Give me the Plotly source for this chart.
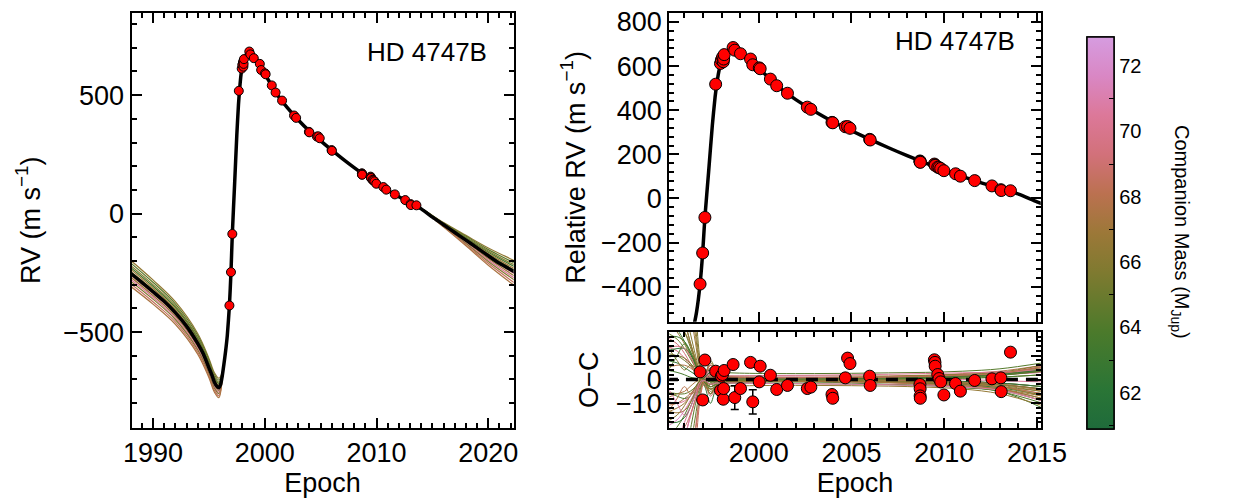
import plotly.graph_objects as go
from plotly.colors import sample_colorscale

FONT = "Liberation Sans, Arial, Helvetica, sans-serif"

# ---------------- data ----------------
# RV measurements (epoch, RV m/s, O-C m/s, O-C error)
obs_epoch = [1996.84, 1996.98, 1997.10, 1997.68, 1997.94, 1997.99, 1998.05, 1998.09, 1998.11, 1998.14,
             1998.62, 1998.71, 1999.02, 1999.56, 1999.68, 2000.03, 2000.08, 2000.63, 2000.97, 2001.55,
             2002.62, 2002.81, 2003.95, 2003.99, 2004.67, 2004.79, 2004.92, 2005.98, 2006.01, 2008.69,
             2008.70, 2008.70, 2008.71, 2009.47, 2009.50, 2009.51, 2009.65, 2009.72, 2009.81, 2009.98,
             2010.61, 2010.87, 2011.64, 2012.57, 2013.05, 2013.07, 2013.57]
obs_rv = [-388, -247, -86, 518, 612, 628, 640, 620, 632, 652,
          684, 672, 656, 632, 606, 592, 588, 541, 511, 477,
          414, 404, 345, 343, 325, 326, 318, 268, 265, 170,
          168, 165, 164, 156, 152, 150, 142, 140, 136, 126,
          112, 101, 81, 57, 40, 36, 35]
obs_oc = [3.2, -8.6, 8.2, 3.5, -4.6, 1.4, 2.1, -8.3, -3.8, 3.8,
          6.3, -7.6, -3.8, 7.2, -9.4, -1.0, 5.6, 1.8, -4.2, -2.5,
          -3.8, -3.2, -6.3, -7.9, 0.7, 9.0, 6.7, 1.4, -2.5, -2.1,
          -3.9, -6.9, -7.9, 8.3, 7.2, 5.6, 2.1, 0.4, -1.0, -6.5,
          -1.7, -4.9, -0.4, 0.3, 0.7, -5.1, 11.5]
obs_err = [1.5, 1.5, 1.5, 1.5, 1.5, 1.5, 1.5, 1.5, 1.5, 1.5,
           1.5, 5.0, 1.5, 1.5, 5.1, 1.5, 1.5, 1.5, 1.5, 1.5,
           1.5, 1.5, 1.5, 1.5, 1.5, 1.5, 1.5, 1.5, 1.5, 1.5,
           1.5, 1.5, 1.5, 1.5, 1.5, 1.5, 1.5, 1.5, 1.5, 1.5,
           1.5, 1.5, 1.5, 1.5, 1.5, 1.5, 1.5]

# best-fit orbit curve
model_epoch = [1988.0, 1989.0, 1990.0, 1991.0, 1992.0, 1993.0, 1994.0, 1994.5, 1995.0, 1995.3,
               1995.5, 1995.75, 1995.9, 1996.05, 1996.2, 1996.35, 1996.5, 1996.65, 1996.84, 1996.98,
               1997.1, 1997.3, 1997.5, 1997.65, 1997.74, 1997.85, 1997.95, 1998.1, 1998.3, 1998.5,
               1998.65, 1998.8, 1999.0, 1999.5, 2000.0, 2000.5, 2001.0, 2002.0, 2003.0, 2004.0,
               2005.0, 2006.0, 2007.0, 2008.0, 2009.0, 2010.0, 2011.0, 2012.0, 2013.0, 2014.0,
               2015.0, 2016.0, 2017.0, 2018.0, 2019.0, 2020.0, 2021.0, 2022.5]
model_rv = [-252, -290, -330, -370, -418, -475, -548, -592, -650, -685,
            -712, -731, -735, -722, -685, -635, -580, -515, -388, -247,
            -86, 120, 330, 460, 518, 575, 612, 645, 668, 680,
            682, 676, 662, 626, 590, 550, 510, 448, 395, 348,
            307, 268, 230, 194, 160, 128, 99, 71, 46, 20,
            -15, -47, -80, -112, -145, -178, -210, -250]

# orbit draws (left panel), before periastron and after the data
pre_epoch = [1988.0, 1990.0, 1992.0, 1994.0, 1995.0, 1995.5, 1995.9, 1996.2, 1996.5]
post_epoch = [2012.0, 2014.0, 2016.0, 2018.0, 2020.0, 2022.5]
draw_mass = [66.5, 64.5, 66.0, 63.5, 67.0, 65.5, 69.5, 66.8, 70.5, 65.8, 68.5, 67.5]
draw_pre = [
    [-197, -280, -372, -506, -610, -672, -695, -671, -580],
    [-208, -290, -381, -514, -618, -680, -703, -674, -580],
    [-219, -300, -390, -523, -626, -688, -711, -677, -580],
    [-227, -307, -397, -529, -632, -694, -717, -679, -580],
    [-235, -315, -404, -535, -638, -700, -723, -681, -580],
    [-244, -322, -411, -542, -644, -706, -729, -683, -580],
    [-260, -338, -425, -555, -656, -718, -741, -687, -580],
    [-268, -346, -433, -561, -663, -725, -748, -690, -580],
    [-277, -353, -440, -568, -669, -731, -754, -692, -580],
    [-285, -361, -447, -575, -675, -737, -760, -694, -580],
    [-296, -372, -457, -584, -684, -746, -769, -697, -580],
    [-307, -382, -467, -593, -692, -754, -777, -700, -580],
]
draw_post = [
    [71, 22, -38, -92, -145, -202],
    [71, 21.6, -40, -96, -152, -212],
    [71, 21, -42, -100, -158, -221],
    [71, 21, -43, -103, -163, -228],
    [71, 20.6, -44, -106, -168, -236],
    [71, 20.3, -46, -109, -173, -243],
    [71, 19.7, -48.5, -116, -184, -259],
    [71, 19.4, -50, -119, -190, -268],
    [71, 19, -51.5, -123, -196, -277],
    [71, 18.8, -53, -126, -202, -286],
    [71, 18.4, -55, -131, -210, -298],
    [71, 18, -57, -136, -218, -310],
]

# O-C of orbit draws relative to the best fit
oc_epoch = [1995.0, 1995.6, 1996.0, 1996.3, 1996.6, 1996.85, 1997.1, 1997.4, 1997.7, 1998.0,
            1998.5, 1999.5, 2001.0, 2003.0, 2005.0, 2007.0, 2009.0, 2011.0, 2013.0, 2015.3]
oc_mass = [66.0, 64.5, 69.5, 67.0, 62.5, 65.5, 70.5, 66.5, 68.0, 63.5,
           67.5, 65.0, 71.5, 64.0, 66.2, 68.8, 65.2, 67.8, 63.0, 70.0,
           66.8, 64.8, 69.2, 66.4, 62.0, 63.8, 67.2, 70.8, 65.8, 68.4,
           64.2, 66.6, 66.3, 63.2, 69.8, 65.4, 67.6, 64.6, 70.3, 66.9,
           62.4, 68.6, 65.9, 67.9, 64.1, 71.0]
oc_draws = [
    [60, 45, 30, 20, 10, 3, 1, 2, 1, 0.5, 0.5, 0.3, 0.2, 0, 0, 0.2, 0.5, 1, 2, 4],
    [-60, -48, -35, -22, -10, -3, 0, -1, -1, -0.5, -0.5, -0.5, -0.3, -0.2, -0.3, -0.5, -1, -2, -4, -8],
    [14, 12, 9, 6, 3, 1, 0.5, 3, 2, 1, 0.5, 0.5, 0.3, 0.3, 0.5, 0.8, 1.2, 1.8, 2.8, 5],
    [-14, -12, -10, -7, -4, -1, -2, -6, -3, -1.5, -1, -0.8, -0.5, -0.5, -0.8, -1, -1.5, -2.5, -4, -7],
    [8, 7, 5, 3.5, 2, 0.5, -3, -10, -4, -2, -1, -0.5, -0.5, -0.5, -0.5, -0.5, -0.8, -1, -1.5, -3],
    [30, 25, 20, 14, 7, 2, 2, 8, 4, 2, 1, 0.5, 0.3, 0.3, 0.5, 0.7, 1, 1.5, 2.5, 4.5],
    [-30, -25, -18, -12, -6, -2, 0, 2, 1, 0.5, 0.3, 0.3, 0.3, 0.3, 0.3, 0.3, 0.2, 0, -0.5, -1],
    [100, 80, 55, 35, 18, 5, 0, -3, -2, -1, -0.5, -0.5, -0.3, -0.3, -0.3, -0.5, -1, -1.8, -3, -6],
    [-100, -80, -60, -40, -20, -6, 1, 3, 2, 1, 0.5, 0.5, 0.3, 0.3, 0.5, 1, 1.5, 2.5, 3.5, 6],
    [4, 3, 2, 1, 0.5, 0, -1, -4, -3, -2, -1.5, -1, -1, -1, -1.5, -2, -2.5, -3.5, -5, -12],
    [-8, -6, -5, -3, -1, 0, 1, 5, 3, 2, 1.5, 1.5, 1.5, 1.5, 1.5, 1.5, 1.8, 2, 2.5, 3],
    [20, 17, 13, 9, 5, 2, -1, -4, -2.5, -1.5, -1, -1, -1, -1, -1, -1.2, -1.5, -2, -3, -5],
    [-20, -17, -13, -9, -5, -1.5, 1.5, 4, 2.5, 1.5, 1, 1, 1, 1, 1, 1, 1.3, 1.8, 2.5, 4],
    [45, 35, 25, 16, 8, 2, -0.5, -2, -1, -0.8, -0.8, -0.5, -0.5, -0.5, -0.8, -1.2, -2, -3, -5, -10],
    [150, 110, 75, 45, 22, 6, -1, -5, -3, -1.5, -1, -0.5, -0.3, 0, 0.3, 0.5, 0.8, 1.2, 2, 3.5],
    [-150, -110, -75, -45, -22, -6, 2, 6, 3, 1.5, 1, 0.5, 0.3, 0, -0.3, -0.5, -0.8, -1.2, -2, -4],
    [11, 10, 8, 6, 3.5, 1, -0.5, 1, 0.5, 0.3, 0.2, 0, 0, 0, 0, 0, 0.2, 0.5, 1, 2],
    [-11, -10, -8, -6, -3.5, -1, 0.5, -1, -0.5, -0.3, -0.2, 0, 0, 0, 0, -0.2, -0.4, -0.8, -1.5, -3],
    [25, 21, 16, 11, 6, 1.5, -1.5, -6, -3, -1.5, -1, -0.8, -0.6, -0.6, -0.8, -1, -1.4, -2, -3.5, -6.5],
    [-45, -35, -25, -16, -8, -2, 1, 4, 2, 1, 0.8, 0.6, 0.5, 0.5, 0.6, 0.8, 1, 1.5, 2.2, 3.5],
    [80, 62, 45, 30, 15, 4, 0, -2, -1.5, -1, -0.6, -0.3, -0.2, -0.2, -0.3, -0.5, -0.8, -1.4, -2.5, -5],
    [-80, -62, -45, -30, -15, -4, 0.5, 2, 1.5, 1, 0.6, 0.3, 0.2, 0.2, 0.3, 0.5, 0.8, 1.3, 2.2, 4],
    [18, 15, 11, 7, 3.5, 0.5, -2, -7, -3.5, -2, -1.2, -1, -0.8, -0.8, -1, -1.4, -2, -2.8, -4, -9],
    [-18, -15, -11, -7, -3, 0, 2, 7, 3.5, 2, 1.2, 1, 0.8, 0.8, 1, 1.3, 1.7, 2.2, 3, 5],
    [12, 13, 13, 11, 7, 2, -1, -3, -2, -1, -0.5, -0.3, -0.2, -0.2, -0.2, -0.3, -0.5, -0.8, -1.5, -3],
    [-5, -7, -8, -7, -4, -1, 0.5, 1.5, 1, 0.5, 0.3, 0.2, 0.2, 0.2, 0.2, 0.3, 0.4, 0.6, 1, 2],
    [40, 32, 24, 16, 8, 2, -1, -2, -1.5, -1, -1, -0.8, -0.8, -0.8, -1, -1.3, -1.8, -2.6, -4, -8],
    [-40, -32, -24, -16, -8, -2, 1, 3, 2, 1, 0.8, 0.7, 0.6, 0.6, 0.7, 0.9, 1.1, 1.4, 2, 3],
    [200, 150, 100, 60, 30, 8, 0, -2, -1, -0.5, -0.3, 0, 0.2, 0.3, 0.5, 0.8, 1.2, 1.8, 3, 6],
    [-200, -150, -100, -60, -30, -8, 0, 2, 1, 0.5, 0.3, 0, -0.2, -0.3, -0.5, -0.8, -1.2, -1.8, -3, -6],
    [-25, -20, -15, -10, -5, 0, 3, 4, 3.5, 3, 2.8, 2.6, 2.5, 2.5, 2.6, 2.8, 3, 3.5, 4.5, 7],
    [25, 20, 15, 10, 5, 0, -3, -4, -3.5, -3, -2.8, -2.6, -2.5, -2.5, -2.6, -2.8, -3.2, -4, -6, -11],
    [24, 23, 20, 15, 8, 2, 0, 1, 0.5, 0.3, 0.2, 0.1, 0, -0.1, -0.2, -0.4, -0.7, -1.2, -2, -4.5],
    [18, 18, 16, 12, 6, 1.5, -1, -3, -2, -1, -0.6, -0.4, -0.3, -0.3, -0.4, -0.6, -0.9, -1.4, -2.2, -4],
    [13, 14, 13, 10, 5, 1, 2, 6, 3, 1.5, 1, 0.8, 0.7, 0.7, 0.8, 1, 1.3, 1.8, 2.6, 5.5],
    [9, 10, 9, 7, 4, 1, -0.5, -2, -1.5, -1.5, -1.5, -1.6, -1.7, -1.8, -2, -2.2, -2.6, -3.2, -4.5, -9],
    [5, 6, 6, 5, 3, 0.5, 1, 3, 2, 1, 0.6, 0.4, 0.3, 0.3, 0.4, 0.6, 0.9, 1.4, 2.2, 4],
    [-5, -6, -6, -5, -3, -0.5, 0, -1, -0.5, -0.3, -0.2, -0.1, 0, 0.1, 0.2, 0.4, 0.7, 1.1, 1.8, 3.5],
    [-9, -10, -9, -7, -4, -1, 0.5, 2, 1.5, 1.5, 1.5, 1.6, 1.7, 1.8, 2, 2.2, 2.5, 2.8, 3.2, 4],
    [-13, -14, -13, -10, -5, -1, -2, -6, -3, -1.5, -1, -0.8, -0.7, -0.7, -0.8, -1, -1.3, -1.8, -3, -7],
    [-18, -18, -16, -12, -6, -1.5, 1, 3, 2, 1, 0.6, 0.4, 0.3, 0.3, 0.4, 0.6, 0.9, 1.4, 2.2, 4],
    [-24, -23, -20, -15, -8, -2, 0, 1, 0.5, 0.3, 0.2, 0.1, 0, -0.1, -0.2, -0.4, -0.7, -1.2, -2, -4.5],
    [15, 8, 4, 6, 5, 1, -1, -3, -2, -1, -0.6, -0.4, -0.3, -0.3, -0.4, -0.6, -0.9, -1.4, -2.2, -4],
    [-15, -8, -3, -6, -5, -1, 2, 6, 3, 1.5, 1, 0.8, 0.7, 0.7, 0.8, 1, 1.3, 1.8, 2.6, 5.5],
    [2, 10, 15, 12, 6, 1, 0, -1, -0.5, -0.3, -0.2, -0.1, 0, 0.1, 0.2, 0.4, 0.7, 1.1, 1.8, 3.5],
    [-2, -10, -15, -12, -6, -1, -0.5, -2, -1.5, -1.5, -1.5, -1.6, -1.7, -1.8, -2, -2.2, -2.6, -3.2, -4.5, -9],
]

mass_range = [60.9, 72.9]
mass_major = [62, 64, 66, 68, 70, 72]
mass_minor = [61, 63, 65, 67, 69, 71]

left_xticks = [1990, 2000, 2010, 2020]
right_xticks = [2000, 2005, 2010, 2015]

# ---------------- style ----------------
CSCALE = [
    [0.0, "rgb(31,107,59)"], [0.1, "rgb(42,117,54)"], [0.25, "rgb(76,122,43)"],
    [0.4, "rgb(127,122,48)"], [0.5, "rgb(156,120,56)"], [0.6, "rgb(187,113,80)"],
    [0.7, "rgb(210,113,122)"], [0.8, "rgb(220,120,153)"], [0.9, "rgb(217,135,196)"],
    [1.0, "rgb(214,156,224)"],
]


def mcol(m):
    return sample_colorscale(CSCALE, [(m - mass_range[0]) / (mass_range[1] - mass_range[0])])[0]


W, H = 1234, 504
L_X = [127, 520]
R_X = [680, 1062]
TOP_Y = [8, 427]
RT_Y = [8, 320]
OC_Y = [330, 427]
TICK_SIZE = 27


def xd(px):
    return [px[0] / W, px[1] / W]


def yd(py):
    return [1 - py[1] / H, 1 - py[0] / H]


fig = go.Figure()

# left panel draws
for m, ys in zip(draw_mass, draw_pre):
    fig.add_trace(go.Scatter(x=pre_epoch, y=ys, mode="lines", line=dict(color=mcol(m), width=1.2, shape="spline"),
                             xaxis="x", yaxis="y", showlegend=False, hoverinfo="skip"))
for m, ys in zip(draw_mass, draw_post):
    fig.add_trace(go.Scatter(x=post_epoch, y=ys, mode="lines", line=dict(color=mcol(m), width=1.2, shape="spline"),
                             xaxis="x", yaxis="y", showlegend=False, hoverinfo="skip"))
# best fit
fig.add_trace(go.Scatter(x=model_epoch, y=model_rv, mode="lines",
                         line=dict(color="black", width=3.5, shape="spline", smoothing=0.6),
                         xaxis="x", yaxis="y", showlegend=False, hoverinfo="skip"))
fig.add_trace(go.Scatter(x=obs_epoch, y=obs_rv, mode="markers",
                         marker=dict(color="red", size=9, line=dict(color="black", width=1)),
                         xaxis="x", yaxis="y", showlegend=False))

# right top
fig.add_trace(go.Scatter(x=model_epoch, y=model_rv, mode="lines",
                         line=dict(color="black", width=3.5, shape="spline", smoothing=0.6),
                         xaxis="x2", yaxis="y2", showlegend=False, hoverinfo="skip"))
fig.add_trace(go.Scatter(x=obs_epoch, y=obs_rv, mode="markers",
                         marker=dict(color="red", size=12, line=dict(color="black", width=1)),
                         xaxis="x2", yaxis="y2", showlegend=False))

# O-C
for m, ys in zip(oc_mass, oc_draws):
    fig.add_trace(go.Scatter(x=oc_epoch, y=ys, mode="lines", line=dict(color=mcol(m), width=1, shape="spline"),
                             xaxis="x3", yaxis="y3", showlegend=False, hoverinfo="skip"))
fig.add_trace(go.Scatter(x=[1995.0, 2015.5], y=[0, 0], mode="lines",
                         line=dict(color="black", width=3.5, dash="12px,8px"),
                         xaxis="x3", yaxis="y3", showlegend=False, hoverinfo="skip"))
fig.add_trace(go.Scatter(x=obs_epoch, y=obs_oc, mode="markers",
                         error_y=dict(type="data", array=obs_err, color="black", thickness=1.5, width=4),
                         marker=dict(color="red", size=12, line=dict(color="black", width=1)),
                         xaxis="x3", yaxis="y3", showlegend=False))

# colorbar (major ticks with labels, then a twin bar carrying minor ticks)
CB = dict(x=1110 / W, xanchor="left", y=1 - 428 / H, yanchor="bottom", len=396 / H, lenmode="fraction",
          thickness=27, thicknessmode="pixels", outlinewidth=1.5, outlinecolor="black",
          ticks="inside", tickcolor="black", tickwidth=1.2, xpad=0, ypad=0)
fig.add_trace(go.Scatter(x=[2005, 2005], y=[0, 0], mode="markers", opacity=0,
                         marker=dict(color=mass_range, cmin=mass_range[0], cmax=mass_range[1], colorscale=CSCALE,
                                     showscale=True, size=1,
                                     colorbar=dict(CB, tickvals=mass_major, ticklen=7,
                                                   tickfont=dict(size=20, family=FONT, color="black"))),
                         xaxis="x3", yaxis="y3", showlegend=False, hoverinfo="skip"))
fig.add_trace(go.Scatter(x=[2005, 2005], y=[0, 0], mode="markers", opacity=0,
                         marker=dict(color=mass_range, cmin=mass_range[0], cmax=mass_range[1], colorscale=CSCALE,
                                     showscale=True, size=1,
                                     colorbar=dict(CB, tickvals=mass_minor, ticklen=5, showticklabels=False)),
                         xaxis="x3", yaxis="y3", showlegend=False, hoverinfo="skip"))


def ax(**kw):
    base = dict(showline=True, linecolor="black", linewidth=2, mirror="allticks", ticks="inside",
                ticklen=10, tickwidth=1.5, tickcolor="black", showgrid=False, zeroline=False,
                tickfont=dict(size=TICK_SIZE, family=FONT, color="black"),
                title_font=dict(size=27, family=FONT, color="black"))
    base.update(kw)
    return base


fig.update_layout(
    width=W, height=H, margin=dict(l=0, r=0, t=0, b=0),
    paper_bgcolor="white", plot_bgcolor="white",
    font=dict(family=FONT, color="black"),
    xaxis=ax(domain=xd(L_X), range=[1988.08, 2022.27], tickvals=left_xticks, anchor="y",
             minor=dict(ticks="inside", ticklen=5, dtick=1, tick0=1988, tickcolor="black"),
             title=dict(text="Epoch", standoff=4)),
    yaxis=ax(domain=yd(TOP_Y), range=[-904, 847], dtick=500, anchor="x",
             minor=dict(ticks="inside", ticklen=5, dtick=100, tickcolor="black"),
             title=dict(text="RV (m s<sup>−1</sup>)", standoff=15)),
    xaxis2=ax(domain=xd(R_X), range=[1995.18, 2015.2], tickvals=right_xticks, anchor="y2",
              showticklabels=False, matches="x3",
              minor=dict(ticks="inside", ticklen=5, dtick=1, tick0=1995, tickcolor="black")),
    yaxis2=ax(domain=yd(RT_Y), range=[-559, 841], dtick=200, anchor="x2",
              minor=dict(ticks="inside", ticklen=5, dtick=40, tickcolor="black"),
              title=dict(text="Relative RV (m s<sup>−1</sup>)", standoff=8)),
    xaxis3=ax(domain=xd(R_X), range=[1995.18, 2015.2], tickvals=right_xticks, anchor="y3",
              minor=dict(ticks="inside", ticklen=5, dtick=1, tick0=1995, tickcolor="black"),
              title=dict(text="Epoch", standoff=4)),
    yaxis3=ax(domain=yd(OC_Y), range=[-20.3, 20.1], tickvals=[-10, 0, 10], anchor="x3",
              minor=dict(ticks="inside", ticklen=5, dtick=2, tickcolor="black"),
              title=dict(text="O−C", standoff=10)),
    annotations=[
        dict(text="HD 4747B", x=367 / W, y=1 - 47 / H, xref="paper", yref="paper", xanchor="left",
             yanchor="middle", showarrow=False, font=dict(size=26, family=FONT, color="black")),
        dict(text="HD 4747B", x=1038 / W, y=1 - 36 / H, xref="paper", yref="paper", xanchor="right",
             yanchor="middle", showarrow=False, font=dict(size=26, family=FONT, color="black")),
        dict(text="Companion Mass (M<sub>Jup</sub>)", x=1206 / W, y=1 - 229 / H, xref="paper", yref="paper",
             xanchor="center", yanchor="middle", textangle=90, showarrow=False,
             font=dict(size=20, family=FONT, color="black")),
    ],
)

fig.write_html("out.html")
